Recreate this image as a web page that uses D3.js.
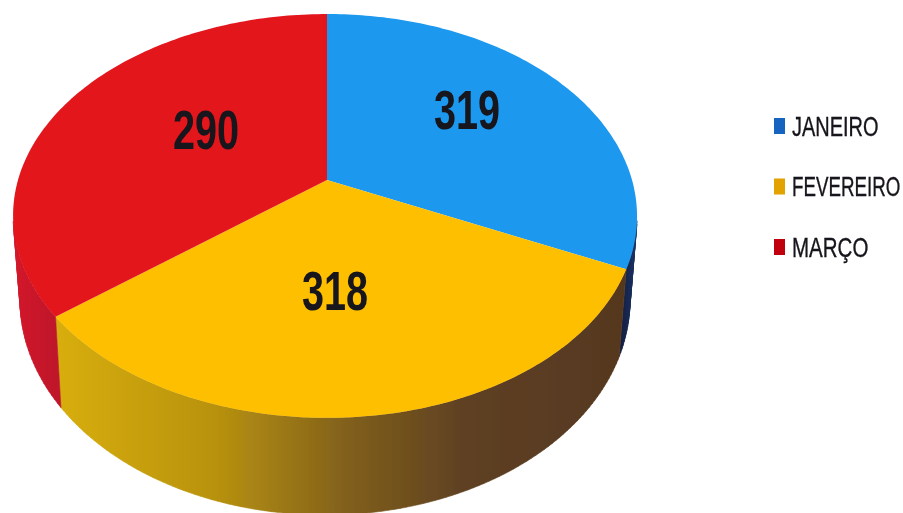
<!DOCTYPE html>
<html>
<head>
<meta charset="utf-8">
<script src="https://cdn.jsdelivr.net/npm/d3@7/dist/d3.min.js"></script>
<style>html,body{margin:0;background:#fff}svg{display:block}</style>
</head>
<body>
<svg id="c" width="903" height="513"></svg>
<script>
const categories = ["JANEIRO", "FEVEREIRO", "MARÇO"];
const values = [319, 318, 290];
const topColors = ["#1b98ee", "#fdbf00", "#e3141f"];
const legendColors = ["#1664c0", "#e2a200", "#c00010"];
const sideGradients = [
  [["0%", "#141c3c"], ["100%", "#1c3468"]],
  [["0%", "#d8ae0c"], ["28%", "#b8920f"], ["52%", "#7f5e1c"], ["72%", "#5e4022"], ["100%", "#55381f"]],
  [["0%", "#d41a2c"], ["100%", "#bd1429"]]
];

// Layout of the tilted disc
const hub = {x: 327, y: 180};
const R = 307, H = 195.5, K = 0.178, edgeShift = 2;
const upper = {cx: 325, cy: 216, rx: 312, ry: 202};
const lower = {cx: 325, cy: 300, rx: 305, ry: 215};
const screenBreaks = [0, 115, 231.5, 360];
const labelAnchors = [[467, 110], [335, 291], [206, 130]];
const labelSquash = 0.72, legendSquash = [0.74, 0.695, 0.76];

const svg = d3.select("#c");
const defs = svg.append("defs");
defs.append("filter").attr("id", "soft").append("feGaussianBlur").attr("stdDeviation", 0.45);

const arcs = d3.pie().value(d => d).sort(null)(values);
const toDeg = d3.scaleLinear().domain([0, 2 * Math.PI]).range([0, 360]);
const warp = d3.scaleLinear()
  .domain([0, ...arcs.map(a => toDeg(a.endAngle))])
  .range(screenBreaks);

function topPoint(deg) {
  const a = warp(deg) * Math.PI / 180, u = Math.sin(a), v = -Math.cos(a);
  const w = 1 / (1 - K * v);
  return [hub.x - edgeShift * u * u + R * u * w, hub.y + H * v * w];
}
function lowerPoint(p) {
  const t = Math.atan2((p[1] - upper.cy) / upper.ry, (p[0] - upper.cx) / upper.rx);
  return [lower.cx + lower.rx * Math.cos(t), lower.cy + lower.ry * Math.sin(t)];
}
const rim = a => d3.range(0, 121).map(i =>
  topPoint(toDeg(a.startAngle) + (toDeg(a.endAngle) - toDeg(a.startAngle)) * i / 120));
const line = d3.line();
const isFront = p => p[1] > upper.cy + 2;

// Side walls, each with its own left-to-right shading, swept as thin quads
arcs.forEach((a, i) => {
  const pts = rim(a), low = pts.map(lowerPoint);
  const front = pts.filter(isFront).concat(low.filter((p, j) => isFront(pts[j])));
  const g = defs.append("linearGradient").attr("id", "side" + i)
    .attr("gradientUnits", "userSpaceOnUse")
    .attr("x1", d3.min(front, p => p[0])).attr("x2", d3.max(front, p => p[0]))
    .attr("y1", 0).attr("y2", 0);
  sideGradients[i].forEach(s => g.append("stop").attr("offset", s[0]).attr("stop-color", s[1]));
});
const sweep = a => {
  const pts = rim(a), low = pts.map(lowerPoint);
  return d3.range(pts.length - 1)
    .filter(j => isFront(pts[j]) && isFront(pts[j + 1]))
    .map(j => line([pts[j], pts[j + 1], low[j + 1], low[j]]) + "Z").join("");
};
svg.append("g").attr("filter", "url(#soft)").selectAll("path").data(arcs).join("path")
  .attr("d", sweep)
  .attr("fill", (a, i) => `url(#side${i})`)
  .attr("stroke", (a, i) => `url(#side${i})`).attr("stroke-width", 0.6);

// Top faces
svg.append("g").attr("filter", "url(#soft)").selectAll("path").data(arcs).join("path")
  .attr("d", a => line([[hub.x, hub.y], ...rim(a)]) + "Z")
  .attr("fill", (a, i) => topColors[i]);

// Value labels
svg.append("g").selectAll("text").data(values).join("text")
  .attr("transform", (d, i) => `translate(${labelAnchors[i][0]},${labelAnchors[i][1]}) scale(${labelSquash},1)`)
  .attr("text-anchor", "middle").attr("dominant-baseline", "central")
  .attr("font-family", "'Liberation Sans',sans-serif")
  .attr("font-weight", "bold").attr("font-size", 55).attr("fill", "#15131a")
  .attr("filter", "url(#soft)")
  .text(d => d);

// Legend
const legendY = d3.scalePoint().domain(categories).range([126, 247]);
const legend = svg.append("g").selectAll("g").data(categories).join("g")
  .attr("transform", d => `translate(0,${legendY(d)})`);
legend.append("rect").attr("x", 774).attr("y", -8).attr("width", 11).attr("height", 16)
  .attr("fill", (d, i) => legendColors[i]).attr("filter", "url(#soft)");
legend.append("text")
  .attr("transform", (d, i) => `translate(792,0) scale(${legendSquash[i]},1)`)
  .attr("dominant-baseline", "central")
  .attr("font-family", "'Liberation Sans',sans-serif")
  .attr("font-size", 27).attr("fill", "#15131a")
  .attr("stroke", "#15131a").attr("stroke-width", 0.35).attr("filter", "url(#soft)")
  .text(d => d);
</script>
</body>
</html>
